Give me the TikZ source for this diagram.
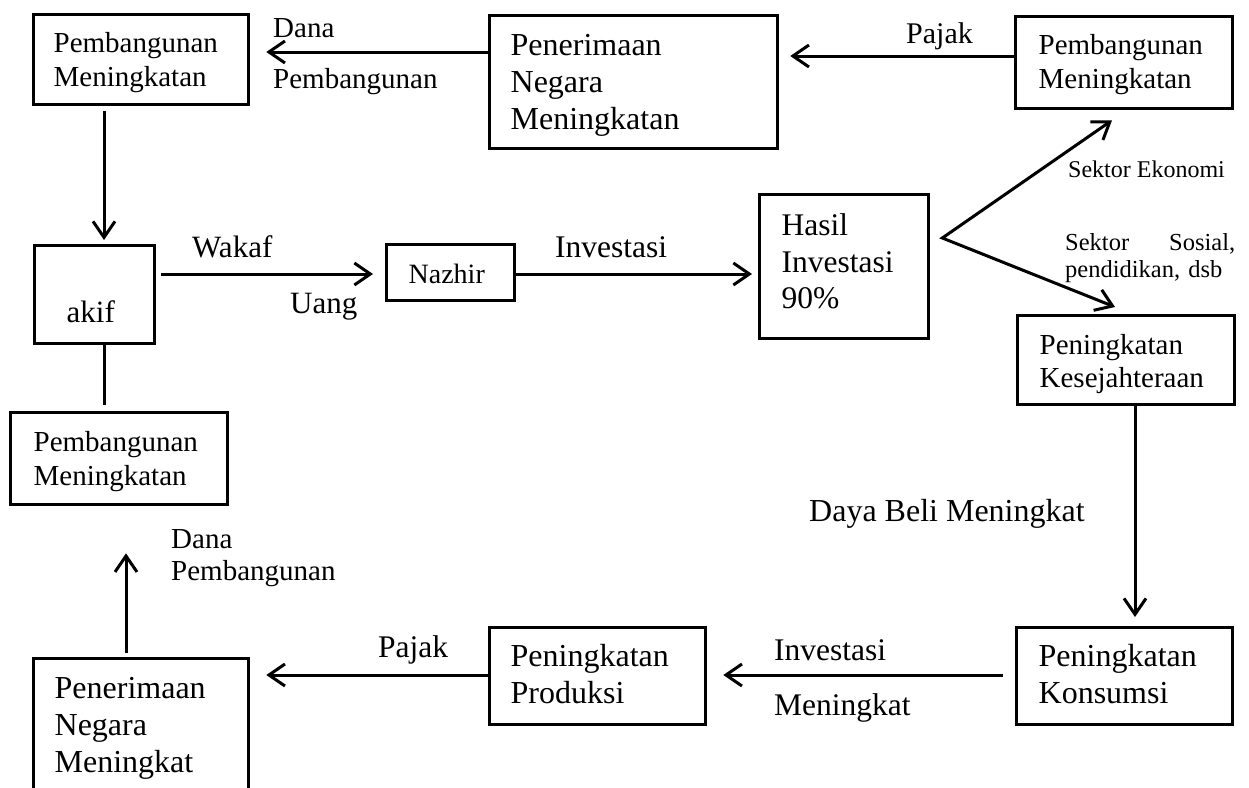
\documentclass[tikz,border=0pt]{standalone}
\usepackage{fontspec}
\setmainfont{Liberation Serif}
\usetikzlibrary{arrows.meta,calc}
\tikzset{
  box/.style={draw, line width=3.3pt, inner ysep=0pt, align=left, anchor=north west},
  fA/.style={font=\fontsize{29}{34}\selectfont},
  fB/.style={font=\fontsize{32}{37}\selectfont},
  arr/.style={line width=3pt, -{Straight Barb[length=16pt,width=22pt]}},
  conn/.style={line width=3pt},
  lbl/.style={anchor=base west, inner sep=0pt, align=left},
}
\begin{document}
\begin{tikzpicture}[x=1pt,y=-1pt]
\useasboundingbox (0,0) rectangle (1249,787);
\fill[white] (0,0) rectangle (1249,787);
\clip (0,0) rectangle (1249,787);

% boxes
\node[box,fA,inner xsep=20pt,text width=175pt,text height=38pt,text depth=52pt] (pmA) at (32,13) {Pembangunan\\Meningkatan};
\node[box,fB,inner xsep=21pt,text width=246pt,text height=40pt,text depth=93pt] (pnA) at (488,14) {Penerimaan\\Negara\\Meningkatan};
\node[box,fA,inner xsep=23pt,text width=171pt,text height=38pt,text depth=54pt] (pmB) at (1014,15) {Pembangunan\\Meningkatan};
\node[box,font=\fontsize{31.5}{36.5}\selectfont,inner xsep=22pt,text width=125pt,text height=41pt,text depth=103pt] (hasil) at (758,193) {Hasil\\Investasi\\90\%};
\node[box,font=\fontsize{28}{33}\selectfont,inner xsep=22pt,text width=84pt,text height=39pt,text depth=17pt] (nazhir) at (385,243) {Nazhir};
\node[box,font=\fontsize{31}{36}\selectfont,inner xsep=32pt,text width=56pt,text height=77pt,text depth=21pt] (akif) at (33,244) {akif};
\node[box,fA,inner xsep=23pt,text width=171pt,text height=39pt,text depth=53pt] (pmC) at (9,411) {Pembangunan\\Meningkatan};
\node[box,font=\fontsize{29}{33}\selectfont,inner xsep=22pt,text width=173pt,text height=39pt,text depth=50pt] (kes) at (1016,314) {Peningkatan\\Kesejahteraan};
\node[box,fB,inner xsep=22pt,text width=172pt,text height=39pt,text depth=58pt] (kon) at (1015,626) {Peningkatan\\Konsumsi};
\node[box,fB,inner xsep=21pt,text width=174pt,text height=39pt,text depth=58pt] (prod) at (488,626) {Peningkatan\\Produksi};
\node[box,fB,inner xsep=21pt,text width=173pt,text height=40pt,text depth=103pt] (pnB) at (32,657) {Penerimaan\\Negara\\Meningkat};

% connectors
\draw[arr] ($(pnA.north west)+(0,38)$) -- ($(pmA.north east)+(16,39)$);
\draw[arr] ($(pmB.north west)+(0,41)$) -- ($(pnA.north east)+(11,42)$);
\draw[arr] ($(pmA.south west)+(72,5)$) -- ($(akif.north west)+(71,-4)$);
\draw[arr] ($(akif.north east)+(5,30)$) -- ($(nazhir.north west)+(-12,31)$);
\draw[arr] ($(nazhir.north east)+(0,31)$) -- ($(hasil.north west)+(-6,81)$);
\coordinate (fork) at ($(hasil.north east)+(12,45)$);
\draw[line width=3pt, {Straight Barb[length=16pt,width=22pt]}-{Straight Barb[length=16pt,width=22pt]}, miter limit=20]
  ($(pmB.south west)+(98,10)$) -- (fork) -- ($(kes.north west)+(99,-7)$);
\draw[arr] ($(kes.south west)+(119,0)$) -- ($(kon.north west)+(120,-9)$);
\draw[arr] ($(kon.north west)+(-12,49)$) -- ($(prod.north east)+(16,49)$);
\draw[arr] ($(prod.north west)+(0,49)$) -- ($(pnB.north east)+(16,18)$);
\draw[arr] ($(pnB.north west)+(94,-4)$) -- ($(pmC.south west)+(117,47)$);
\draw[conn] ($(akif.south west)+(71,0)$) -- ($(pmC.north west)+(95,-6)$);

% labels
\node[lbl,font=\fontsize{29}{51}\selectfont,text width=170pt] (l1) at (273,37) {Dana\\Pembangunan};
\node[lbl,font=\fontsize{30}{36}\selectfont] (l2) at (906,43) {Pajak};
\node[lbl,font=\fontsize{24}{28}\selectfont] (l3) at (1068,177) {Sektor Ekonomi};
\node[lbl,font=\fontsize{24.5}{27}\selectfont,text width=170pt] (l4) at (1065,250) {Sektor\hfill Sosial,\\pendidikan, dsb};
\node[lbl,font=\fontsize{31}{36}\selectfont] (l5) at (192,257) {Wakaf};
\node[lbl,font=\fontsize{31}{36}\selectfont] (l6) at (290,313) {Uang};
\node[lbl,font=\fontsize{31.5}{36}\selectfont] (l7) at (555,257) {Investasi};
\node[lbl,fB] (l8) at (809,521) {Daya Beli Meningkat};
\node[lbl,font=\fontsize{31.5}{55}\selectfont,text width=150pt] (l9) at (774,660) {Investasi\\Meningkat};
\node[lbl,font=\fontsize{31.5}{36}\selectfont] (l10) at (378,657) {Pajak};
\node[lbl,font=\fontsize{29}{32}\selectfont,text width=170pt] (l11) at (171,548) {Dana\\Pembangunan};
\end{tikzpicture}
\end{document}
